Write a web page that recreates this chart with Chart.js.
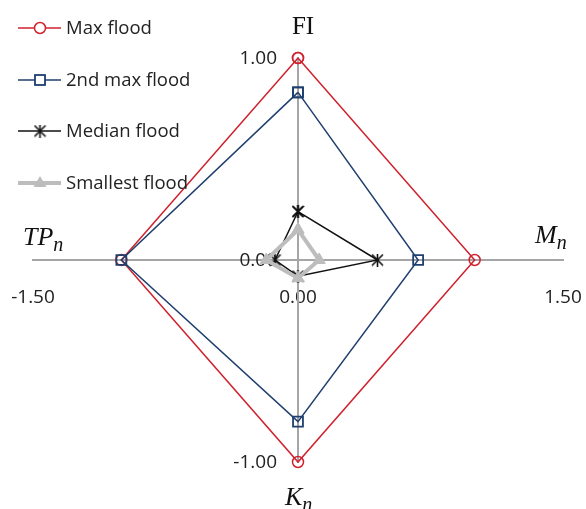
<!DOCTYPE html>
<html>
<head>
<meta charset="utf-8">
<script src="https://cdn.jsdelivr.net/npm/chart.js@4.4.0/dist/chart.umd.min.js"></script>
<style>
  html, body { margin: 0; padding: 0; background: #fff; }
  #wrap { width: 586px; height: 509px; position: relative; }
</style>
</head>
<body>
<div id="wrap"><canvas id="chart"></canvas></div>
<script>
// --- Data ---
const seriesNames = ['Max flood', '2nd max flood', 'Median flood', 'Smallest flood'];
// values on the four axes: FI (up), Mn (right), Kn (down), TPn (left)
const fiValues = [1.00, 0.83, 0.24, 0.15];
const mnValues = [1.00, 0.68, 0.45, 0.12];
const knValues = [-1.00, -0.80, -0.08, -0.09];
const tpnValues = [-1.00, -1.00, -0.13, -0.18];
const xTicks = [-1.5, 0, 1.5];
const yTicks = [-1, 0, 1];

// --- Styles ---
const colors = ['#d0222e', '#1f3f6e', '#111111', '#bdbdbd'];
const widths = [1.5, 1.5, 1.5, 4];
const tickFont = '19px "Open Sans", sans-serif';

function asteriskImage(size, color) {
  const c = document.createElement('canvas');
  c.width = size; c.height = size;
  const g = c.getContext('2d');
  g.strokeStyle = color;
  g.lineWidth = 1.6;
  g.beginPath();
  g.moveTo(1, 1); g.lineTo(size - 1, size - 1);
  g.moveTo(size - 1, 1); g.lineTo(1, size - 1);
  g.moveTo(size / 2, 0); g.lineTo(size / 2, size);
  g.stroke();
  return c;
}
const starImg = asteriskImage(13, colors[2]);

const markers = [
  { pointStyle: 'circle', pointRadius: 5.5, pointBackgroundColor: 'rgba(0,0,0,0)', pointBorderWidth: 1.5 },
  { pointStyle: 'rect', pointRadius: 7, pointBackgroundColor: 'rgba(0,0,0,0)', pointBorderWidth: 1.8 },
  { pointStyle: starImg, pointRadius: 6, pointBackgroundColor: colors[2], pointBorderWidth: 1 },
  { pointStyle: 'triangle', pointRadius: 7, pointBackgroundColor: colors[3], pointBorderWidth: 1 }
];

const datasets = seriesNames.map((name, i) => ({
  label: name,
  data: [
    { x: 0, y: fiValues[i] },
    { x: mnValues[i], y: 0 },
    { x: 0, y: knValues[i] },
    { x: tpnValues[i], y: 0 },
    { x: 0, y: fiValues[i] }
  ],
  showLine: true,
  clip: false,
  borderColor: colors[i],
  borderWidth: widths[i],
  pointBorderColor: colors[i],
  order: 3 - i,
  ...markers[i]
}));

// --- y tick labels (left of the centred axis), axis titles, legend ---
const extras = {
  id: 'extras',
  beforeDatasetsDraw(chart) {
    const ctx = chart.ctx;
    const xs = chart.scales.x, ys = chart.scales.y;
    const x0 = xs.getPixelForValue(0);
    ctx.save();
    ctx.fillStyle = '#222';
    ctx.font = tickFont;
    ctx.textAlign = 'right';
    ctx.textBaseline = 'middle';
    yTicks.forEach(v => ctx.fillText(v.toFixed(2), x0 - 21, ys.getPixelForValue(v) + 1));
    ctx.restore();
  },
  afterDraw(chart) {
    const ctx = chart.ctx;
    ctx.save();
    ctx.fillStyle = '#111';
    ctx.textBaseline = 'alphabetic';
    ctx.textAlign = 'center';
    ctx.font = '25px "Liberation Serif", serif';
    ctx.fillText('FI', 303, 34);

    ctx.textAlign = 'left';
    function subTitle(main, sub, x, y) {
      ctx.font = 'italic 26px "Liberation Serif", serif';
      ctx.fillText(main, x, y);
      const w = ctx.measureText(main).width;
      ctx.font = 'italic 20px "Liberation Serif", serif';
      ctx.fillText(sub, x + w, y + 6);
    }
    subTitle('TP', 'n', 23, 245);
    subTitle('M', 'n', 535, 243);
    subTitle('K', 'n', 285, 505);

    // legend
    const rowY = [28, 80, 131, 183];
    chart.data.datasets.forEach((ds, i) => {
      const y = rowY[i];
      ctx.strokeStyle = ds.borderColor;
      ctx.lineWidth = ds.borderWidth;
      ctx.beginPath();
      ctx.moveTo(18, y); ctx.lineTo(61, y);
      ctx.stroke();
      ctx.lineWidth = 1.5;
      if (i === 0) {
        ctx.fillStyle = '#fff';
        ctx.beginPath(); ctx.arc(40, y, 5.5, 0, Math.PI * 2); ctx.fill(); ctx.stroke();
      } else if (i === 1) {
        ctx.fillStyle = '#fff';
        ctx.fillRect(35, y - 5, 10, 10);
        ctx.lineWidth = 1.8;
        ctx.strokeRect(35, y - 5, 10, 10);
      } else if (i === 2) {
        ctx.drawImage(starImg, 40 - 6.5, y - 6.5);
      } else {
        ctx.fillStyle = ds.borderColor;
        ctx.beginPath();
        ctx.moveTo(40, y - 7); ctx.lineTo(46.5, y + 4); ctx.lineTo(33.5, y + 4);
        ctx.closePath(); ctx.fill();
      }
      ctx.fillStyle = '#222';
      ctx.font = '18.5px "Open Sans", sans-serif';
      ctx.textBaseline = 'middle';
      ctx.fillText(ds.label, 66, y + 1);
      ctx.textBaseline = 'alphabetic';
    });
    ctx.restore();
  }
};

new Chart(document.getElementById('chart'), {
  type: 'scatter',
  data: { datasets },
  options: {
    responsive: true,
    maintainAspectRatio: false,
    animation: false,
    layout: { padding: { left: 33, right: 23, top: 58, bottom: 47 } },
    plugins: { legend: { display: false }, tooltip: { enabled: false } },
    scales: {
      x: {
        type: 'linear',
        position: { y: 0 },
        min: -1.5, max: 1.5,
        afterBuildTicks: axis => { axis.ticks = xTicks.map(v => ({ value: v })); },
        afterFit: axis => { axis.paddingLeft = 0; axis.paddingRight = 0; },
        grid: { drawOnChartArea: false, drawTicks: false },
        border: { display: true, color: '#a6a6a6', width: 2 },
        ticks: {
          padding: 26,
          color: '#222',
          font: { family: 'Open Sans', size: 19 },
          maxRotation: 0,
          callback: v => Number(v).toFixed(2)
        }
      },
      y: {
        type: 'linear',
        position: { x: 0 },
        min: -1, max: 1,
        afterBuildTicks: axis => { axis.ticks = yTicks.map(v => ({ value: v })); },
        grid: { drawOnChartArea: false, drawTicks: false },
        border: { display: true, color: '#a6a6a6', width: 2 },
        ticks: { display: false }
      }
    }
  },
  plugins: [extras]
});
</script>
</body>
</html>
